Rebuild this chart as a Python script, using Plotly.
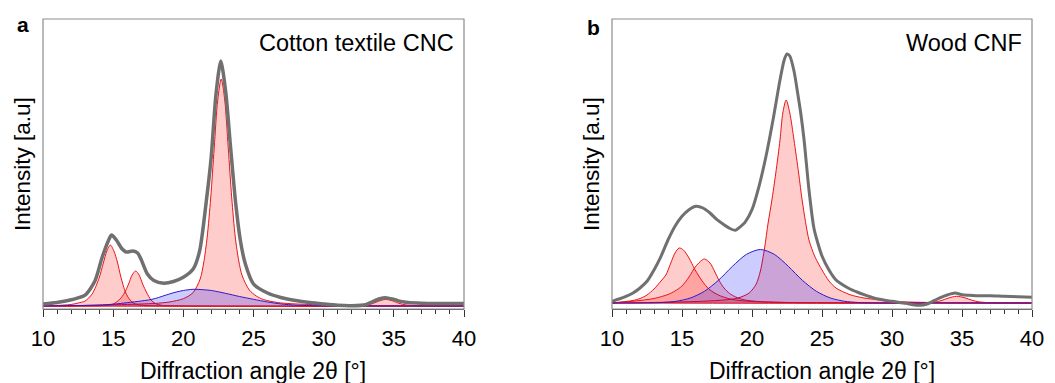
import plotly.graph_objects as go

# ---------------- Panel a: Cotton textile CNC ----------------
a_meas_x = [10, 11, 12.1, 13, 13.7, 14.2, 14.65, 14.88, 15.23, 15.58, 15.93, 16.4, 16.74, 16.98, 17.44, 17.9,
            18.6, 19.3, 20, 20.7, 21.16, 21.63, 21.98, 22.33, 22.67, 23.02, 23.37, 23.72, 24.07, 24.42, 25, 26,
            27, 28, 29, 30, 31, 32, 33, 33.5, 34, 34.4, 35, 35.5, 36, 37, 38, 39, 40]
a_meas_y = [2, 3.5, 6.5, 10.8, 25, 48, 65, 71, 66, 58, 54, 55, 53, 47, 32, 25.4,
            22.8, 24.5, 28.7, 36.9, 55, 104, 148, 212, 245, 214, 158, 104, 65, 42, 22, 13,
            8.3, 5.5, 3.5, 2, 0.7, 0.3, 1.3, 4.5, 7.2, 8.2, 6.6, 4.6, 3.5, 2.8, 2.5, 2.4, 2.4]

a_p1_x = [10, 12, 12.5, 13, 13.5, 14, 14.3, 14.55, 14.8, 15.05, 15.3, 15.55, 15.9, 16.2, 16.5, 17, 18, 40]
a_p1_y = [0, 1.5, 3, 5, 12, 28, 43, 55, 61, 55, 44, 29, 13, 6, 2.5, 0.8, 0.2, 0]

a_p2_x = [10, 14.5, 15, 15.5, 15.8, 16.1, 16.35, 16.6, 16.85, 17.1, 17.4, 17.7, 18, 18.5, 19, 40]
a_p2_y = [0, 0.5, 2, 7, 13, 22, 31, 35, 31, 22, 13, 6, 2.5, 0.6, 0.2, 0]

a_p3_x = [10, 14, 17, 18, 19, 20, 20.7, 21.2, 21.45, 21.7, 21.95, 22.2, 22.45, 22.7, 22.95, 23.2, 23.45,
          23.7, 23.95, 24.2, 24.7, 25.2, 25.7, 26.7, 27.7, 29.7, 32, 40]
a_p3_y = [0, 0.8, 2.0, 2.6, 4.0, 7.3, 13.5, 27, 43, 69, 108, 158, 206, 227, 206, 158, 108,
          69, 45, 30, 16, 10, 6.5, 3.5, 2.3, 1.2, 0.6, 0]

a_p4_x = [10, 32.5, 33, 33.5, 34, 34.4, 34.8, 35.3, 35.8, 36.5, 37, 40]
a_p4_y = [0, 0.2, 0.8, 2.5, 5.2, 6.6, 5.6, 3, 1.2, 0.3, 0.1, 0]

a_am_x = [10, 12, 13, 14, 15, 16, 17, 17.5, 18, 19, 19.5, 20, 20.7, 21.5, 22, 23, 24, 25, 26, 27, 28, 29, 30, 40]
a_am_y = [0, 0.3, 0.6, 1.0, 1.8, 3.3, 5.0, 6.0, 7.5, 12, 14, 15.5, 16.7, 16.2, 15.5, 12.7, 9.5, 6.7, 4, 2, 0.9, 0.4, 0.1, 0]

# ---------------- Panel b: Wood CNF ----------------
b_meas_x = [10, 10.5, 11, 11.5, 12, 12.5, 13, 13.5, 14, 14.5, 15, 15.5, 16, 16.5, 17, 17.5, 18, 18.5, 18.8,
            19.2, 19.5, 20, 20.5, 21, 21.5, 22, 22.3, 22.5, 22.7, 23, 23.26, 23.5, 23.72, 24.07, 24.42, 24.7,
            25, 25.5, 26, 26.5, 27, 27.5, 28, 28.5, 29, 30, 31, 31.5, 32, 32.5, 33, 33.5, 34, 34.5, 35, 35.5,
            36, 37, 38, 39, 40]
b_meas_y = [1.7, 4, 6.7, 10, 15, 21.7, 33, 46.7, 63, 76.7, 86.7, 93.3, 96.7, 95, 90, 83.3, 78.3, 74, 72.7,
            76.7, 80.7, 93.3, 116.7, 146.7, 183, 223, 243, 249, 247, 232, 210, 188, 163, 113, 75, 60,
            47, 33, 23, 18, 14, 11, 8.3, 6, 4, 1.7, -0.3, -1.7, -2.3, -1, 2.3, 5.7, 8.3, 10, 8.3, 7.7,
            7.3, 7.3, 6.7, 6.3, 5.7]

b_p1_x = [10, 11, 11.5, 12, 12.5, 13, 13.5, 13.85, 14.2, 14.5, 14.8, 15.1, 15.5, 15.9, 16.2, 16.6, 17, 17.6,
          18.3, 19, 20, 22, 25, 40]
b_p1_y = [0, 1.5, 2.5, 4.5, 8, 14, 22, 28, 40, 50, 55, 53, 45, 34, 27, 19, 13, 8,
          4.5, 2.7, 1.5, 0.6, 0.2, 0]

b_p2_x = [10, 11, 12, 13, 14, 14.5, 15, 15.5, 16, 16.59, 17.0, 17.35, 17.67, 18.0, 18.4, 18.84, 19.5, 20.5,
          22, 25, 40]
b_p2_y = [0, 1.2, 2.5, 4.5, 8.5, 12, 17, 26, 37, 44, 40, 31, 22, 15, 9.5, 6, 3, 1.5,
          0.7, 0.2, 0]

b_p3_x = [10, 14, 16, 18, 19, 19.8, 20.3, 20.6, 20.9, 21.15, 21.4, 21.7, 22.0, 22.2, 22.44, 22.7, 23.0, 23.33,
          23.6, 24.07, 24.47, 24.8, 25.0, 25.5, 26, 27, 28, 29, 30, 32, 35, 40]
b_p3_y = [0, 0.8, 1.5, 3, 5, 10, 19, 32, 55, 80, 101, 130, 163, 190, 203, 190, 163, 130,
          101, 63, 47, 38, 33, 22, 15, 8.3, 5, 3.3, 1.7, 0.7, 0.3, 0]

b_p4_x = [10, 32.5, 33, 33.5, 34, 34.6, 35.2, 35.7, 36.2, 36.8, 37.5, 40]
b_p4_y = [0, 0.2, 0.8, 2.3, 4.8, 6.7, 5.2, 2.8, 1.2, 0.4, 0.1, 0]

b_am_x = [10, 12.6, 13.6, 14.6, 15.6, 16.6, 17.6, 18.6, 19.6, 20.6, 21.6, 22.6, 23.6, 24.6, 25.6, 26.6, 27.6, 28.6, 40]
b_am_y = [0, 0.1, 0.5, 1.75, 5.0, 11.7, 22.7, 36.6, 48.6, 53.5, 48.6, 36.6, 22.7, 11.7, 5.0, 1.75, 0.5, 0.1, 0]

x_ticks = [10, 15, 20, 25, 30, 35, 40]
panel_labels = ["a", "b"]
sample_names = ["Cotton textile CNC", "Wood CNF"]
x_title = "Diffraction angle 2θ [°]"
y_title = "Intensity [a.u]"

W, H = 1055, 383
FONT = "Liberation Sans, Arial, sans-serif"
RED_LINE = "rgb(235,20,20)"
RED_FILL = "rgba(255,0,0,0.2)"
BLUE_LINE = "rgb(45,25,205)"
BLUE_FILL = "rgba(0,0,255,0.2)"
GREY = "rgb(112,112,112)"


def px(x):
    return x / W


def py(y):
    return 1 - y / H


fig = go.Figure()

panels = [
    dict(xa="x", ya="y", meas=(a_meas_x, a_meas_y),
         reds=[(a_p3_x, a_p3_y), (a_p1_x, a_p1_y), (a_p2_x, a_p2_y), (a_p4_x, a_p4_y)],
         blue=(a_am_x, a_am_y), mw=3.5),
    dict(xa="x2", ya="y2", meas=(b_meas_x, b_meas_y),
         reds=[(b_p3_x, b_p3_y), (b_p1_x, b_p1_y), (b_p2_x, b_p2_y), (b_p4_x, b_p4_y)],
         blue=(b_am_x, b_am_y), mw=3.0),
]

for p in panels:
    for rx, ry in p["reds"]:
        fig.add_trace(go.Scatter(x=rx, y=ry, mode="lines", xaxis=p["xa"], yaxis=p["ya"],
                                 line=dict(color=RED_LINE, width=1, shape="spline", smoothing=0.8),
                                 fill="tozeroy", fillcolor=RED_FILL, showlegend=False, hoverinfo="skip"))
    bx, by = p["blue"]
    fig.add_trace(go.Scatter(x=bx, y=by, mode="lines", xaxis=p["xa"], yaxis=p["ya"],
                             line=dict(color=BLUE_LINE, width=1, shape="spline", smoothing=0.8),
                             fill="tozeroy", fillcolor=BLUE_FILL, showlegend=False, hoverinfo="skip"))
    mx, my = p["meas"]
    fig.add_trace(go.Scatter(x=mx, y=my, mode="lines", xaxis=p["xa"], yaxis=p["ya"],
                             line=dict(color=GREY, width=p["mw"], shape="spline", smoothing=0.7),
                             showlegend=False, hoverinfo="skip"))

ydom = [py(309), py(19)]
xaxis_common = dict(range=[10, 40], tickvals=x_ticks, ticks="outside", ticklen=7, tickwidth=1,
                    tickcolor="#333333", showline=True, linecolor="#555555", linewidth=1,
                    showgrid=False, zeroline=False, ticklabelstandoff=3, automargin=False,
                    tickfont=dict(family=FONT, size=22, color="black"),
                    minor=dict(ticks="outside", ticklen=4, dtick=1, tickcolor="#333333", showgrid=False))
yaxis_common = dict(showticklabels=False, ticks="", showgrid=False, zeroline=False, showline=False,
                    automargin=False)

fig.update_layout(
    width=W, height=H, margin=dict(l=0, r=0, t=0, b=0, autoexpand=False),
    paper_bgcolor="white", plot_bgcolor="white",
    xaxis=dict(domain=[px(43), px(464)], anchor="y", **xaxis_common),
    xaxis2=dict(domain=[px(612), px(1032)], anchor="y2", **xaxis_common),
    yaxis=dict(domain=ydom, anchor="x", range=[-3, 287], **yaxis_common),
    yaxis2=dict(domain=ydom, anchor="x2", range=[-6, 284], **yaxis_common),
)

shapes = []
for xr, yr in [("x", "y"), ("x2", "y2")]:
    shapes.append(dict(type="rect", xref=f"{xr} domain", yref=f"{yr} domain", x0=0, x1=1, y0=0, y1=1,
                       line=dict(color="#8c8c8c", width=1.2), fillcolor="rgba(0,0,0,0)", layer="above"))
fig.update_layout(shapes=shapes)


def note(text, x, y, size, xanchor="center", angle=0):
    return dict(text=text, x=px(x), y=py(y), xref="paper", yref="paper", xanchor=xanchor,
                yanchor="middle", textangle=angle, showarrow=False,
                font=dict(family=FONT, size=size, color="black"))


ann = [
    note("<b>" + panel_labels[0] + "</b>", 23, 25, 21),
    note("<b>" + panel_labels[1] + "</b>", 593, 27, 21),
    note(sample_names[0], 456, 43, 23.5, xanchor="right"),
    note(sample_names[1], 1024, 43, 23.5, xanchor="right"),
    note(x_title, 253, 371, 23),
    note(x_title, 822, 371, 23),
    note(y_title, 23, 164, 22.5, angle=-90),
    note(y_title, 592, 164, 22.5, angle=-90),
]
fig.update_layout(annotations=ann)

post = ("document.body.style.margin='0';document.body.style.padding='0';"
        "document.body.style.overflow='hidden';"
        "var d=document.getElementById('{plot_id}');d.style.position='fixed';"
        "d.style.left='0px';d.style.top='0px';")
fig.write_html("out.html", post_script=post, config={"displayModeBar": False})
